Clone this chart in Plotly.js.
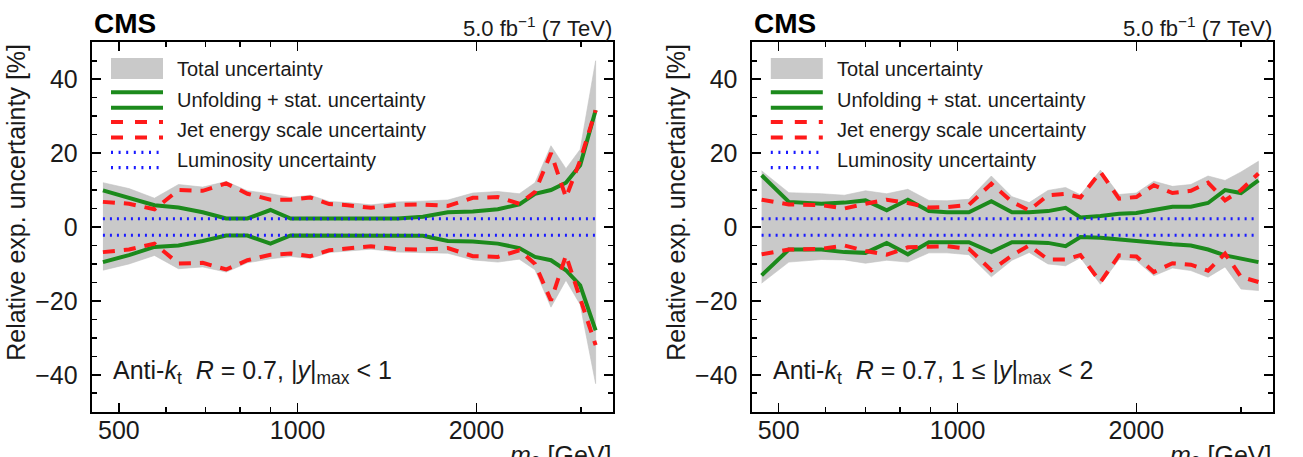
<!DOCTYPE html>
<html>
<head>
<meta charset="utf-8">
<script src="https://cdn.plot.ly/plotly-3.0.1.min.js"></script>
<style>
  html, body { margin: 0; padding: 0; background: #ffffff; }
  #chart { width: 1303px; height: 457px; }
</style>
</head>
<body>
<div id="chart"></div>
<script>
// ---- Relative experimental uncertainties [%] vs dijet mass m2 [GeV] ----

// |y|max < 1
const mass_y0   = [470, 520, 574, 630, 692, 758, 823, 900, 973, 1050, 1130, 1214, 1329, 1474, 1625, 1790, 1972, 2173, 2362, 2510, 2670, 2830, 2990, 3175];
const unfUp_y0  = [9.9, 8.0, 5.9, 5.3, 4.0, 2.3, 2.3, 4.6, 2.3, 2.3, 2.3, 2.3, 2.3, 2.3, 2.8, 4.0, 4.2, 4.8, 6.1, 9.0, 10.0, 12.0, 16.7, 31.6];
const unfDn_y0  = [-9.5, -7.6, -5.4, -5.0, -3.8, -2.3, -2.3, -4.5, -2.3, -2.3, -2.3, -2.3, -2.3, -2.3, -2.4, -3.8, -3.9, -4.5, -5.7, -8.1, -9.0, -11.7, -15.8, -28.0];
const jesUp_y0  = [6.8, 6.3, 4.8, 10.0, 9.8, 11.8, 9.0, 7.4, 7.4, 8.0, 6.2, 5.9, 5.2, 6.0, 6.1, 5.7, 7.9, 8.1, 6.3, 9.5, 20.0, 8.0, 18.0, 31.6];
const jesDn_y0  = [-6.8, -6.1, -4.5, -9.9, -9.7, -11.5, -9.0, -7.5, -7.2, -7.9, -6.3, -5.9, -5.2, -6.0, -6.1, -5.7, -7.9, -8.1, -6.3, -10.0, -19.9, -7.7, -19.0, -32.0];
const totUp_y0  = [12.0, 10.4, 7.8, 11.5, 10.8, 12.3, 9.8, 9.0, 8.0, 8.6, 6.9, 6.6, 6.0, 6.8, 7.0, 7.3, 9.2, 9.6, 9.0, 12.0, 22.0, 15.8, 21.0, 45.0];
const totDn_y0  = [-11.7, -10.0, -7.7, -11.3, -10.8, -12.2, -9.7, -8.6, -8.0, -8.5, -6.9, -6.6, -6.0, -6.8, -6.9, -7.1, -8.9, -9.5, -8.7, -11.6, -21.7, -14.4, -21.0, -42.4];

// 1 <= |y|max < 2
const mass_y1   = [468, 520, 590, 645, 700, 760, 825, 895, 960, 1045, 1140, 1235, 1320, 1420, 1520, 1610, 1740, 1870, 2000, 2140, 2300, 2470, 2640, 2820, 3000, 3210];
const unfUp_y1  = [14.0, 6.8, 6.3, 6.6, 7.2, 4.5, 7.4, 4.3, 4.0, 4.0, 7.0, 4.0, 4.0, 4.3, 5.2, 2.6, 3.0, 3.6, 3.8, 4.6, 5.5, 5.5, 6.5, 10.0, 9.2, 12.6];
const unfDn_y1  = [-13.1, -6.1, -6.1, -6.8, -7.0, -4.3, -7.4, -4.1, -4.1, -4.1, -6.8, -4.1, -4.1, -4.3, -5.2, -2.7, -2.9, -3.4, -3.6, -4.2, -4.7, -5.0, -6.1, -7.7, -8.6, -9.5];
const jesUp_y1  = [7.4, 6.1, 5.9, 5.0, 6.3, 7.4, 6.5, 5.3, 5.4, 6.0, 11.7, 6.8, 4.5, 8.6, 9.0, 8.0, 14.9, 7.7, 8.1, 11.3, 9.2, 9.8, 12.0, 7.2, 10.0, 14.5];
const jesDn_y1  = [-7.4, -6.1, -5.9, -5.0, -6.5, -7.5, -5.5, -5.2, -5.2, -5.9, -11.7, -7.7, -5.0, -8.8, -8.8, -7.6, -14.9, -7.7, -8.0, -12.2, -9.8, -10.2, -11.8, -7.2, -13.5, -14.9];
const totUp_y1  = [15.2, 9.3, 9.0, 8.6, 9.8, 9.0, 10.2, 7.2, 7.1, 7.5, 13.8, 8.2, 6.6, 9.9, 10.7, 8.7, 15.4, 8.8, 9.2, 12.4, 11.0, 11.5, 13.8, 12.6, 14.9, 17.8];
const totDn_y1  = [-15.2, -9.5, -8.8, -8.9, -9.8, -9.0, -9.5, -7.0, -7.0, -7.5, -13.5, -9.0, -6.9, -10.0, -10.5, -8.3, -15.5, -8.8, -9.1, -13.2, -11.1, -11.8, -13.6, -10.8, -16.8, -17.2];

// luminosity uncertainty, flat
const lumiUnc = 2.2;

// axis ticks
const xMajorTicks = [500, 1000, 2000];
const xMinorTicks = [600, 700, 800, 900, 3000];
const yMajorTicks = [-40, -20, 0, 20, 40];

// texts
const legendLabels = ["Total uncertainty", "Unfolding + stat. uncertainty", "Jet energy scale uncertainty", "Luminosity uncertainty"];
const panelLabels = [
  "Anti-<i>k</i><sub>t</sub>  <i>R</i> = 0.7, |<i>y</i>|<sub>max</sub> &lt; 1",
  "Anti-<i>k</i><sub>t</sub>  <i>R</i> = 0.7, 1 ≤ |<i>y</i>|<sub>max</sub> &lt; 2"
];
const expLabel = "<b>CMS</b>";
const lumiLabel = "5.0 fb<sup>−1</sup> (7 TeV)";
const yTitle = "Relative exp. uncertainty [%]";
const xTitle = "<i>m</i><sub>2</sub> [GeV]";

// ---- drawing ----
const W = 1303, H = 457;
const px = v => v / W;
const py = v => 1 - v / H;

const FONT = "Liberation Sans, Arial, Helvetica, sans-serif";
const GREEN = "#1c8a1c", RED = "#ff1a1a", BLUE = "#1a1aff", GRAY = "#c9c9c9";

const panels = [
  { mass: mass_y0, unfUp: unfUp_y0, unfDn: unfDn_y0, jesUp: jesUp_y0, jesDn: jesDn_y0, totUp: totUp_y0, totDn: totDn_y0,
    xa: "x", ya: "y", left: 91.7, right: 613.3, label: panelLabels[0], ytitleX: 16 },
  { mass: mass_y1, unfUp: unfUp_y1, unfDn: unfDn_y1, jesUp: jesUp_y1, jesDn: jesDn_y1, totUp: totUp_y1, totDn: totDn_y1,
    xa: "x2", ya: "y2", left: 751.5, right: 1273.3, label: panelLabels[1], ytitleX: 676 }
];
const plotTop = 42.3, plotBottom = 411.7;

const traces = [];
panels.forEach(p => {
  const common = { xaxis: p.xa, yaxis: p.ya, mode: "lines", hoverinfo: "skip", showlegend: false };
  // total band as a closed polygon
  traces.push(Object.assign({}, common, {
    x: p.mass.concat(p.mass.slice().reverse()),
    y: p.totUp.concat(p.totDn.slice().reverse()),
    fill: "toself", fillcolor: GRAY, line: { width: 0.6, color: "#c2c2c2" }
  }));
  traces.push(Object.assign({}, common, { x: p.mass, y: p.unfUp, line: { color: GREEN, width: 4 } }));
  traces.push(Object.assign({}, common, { x: p.mass, y: p.unfDn, line: { color: GREEN, width: 4 } }));
  traces.push(Object.assign({}, common, { x: p.mass, y: p.jesUp, line: { color: RED, width: 4, dash: "12px,9px" } }));
  traces.push(Object.assign({}, common, { x: p.mass, y: p.jesDn, line: { color: RED, width: 4, dash: "12px,9px" } }));
  traces.push(Object.assign({}, common, { x: p.mass, y: p.mass.map(() => lumiUnc), line: { color: BLUE, width: 3, dash: "2px,5px" } }));
  traces.push(Object.assign({}, common, { x: p.mass, y: p.mass.map(() => -lumiUnc), line: { color: BLUE, width: 3, dash: "2px,5px" } }));
});

function xAxis(p, anchor) {
  return {
    type: "log", range: [Math.log10(450), Math.log10(3400)],
    domain: [px(p.left), px(p.right)], anchor: anchor,
    tickmode: "array", tickvals: xMajorTicks, ticktext: xMajorTicks.map(String),
    ticks: "inside", ticklen: 9, tickwidth: 1.5, tickcolor: "#000",
    minor: { tickmode: "array", tickvals: xMinorTicks, ticks: "inside", ticklen: 5, tickwidth: 1.5, tickcolor: "#000", showgrid: false },
    showline: true, linecolor: "#000", linewidth: 2, mirror: "allticks",
    showgrid: false, zeroline: false, ticklabelstandoff: -5,
    tickfont: { family: FONT, size: 25, color: "#1a1a1a" }
  };
}
function yAxis(p, anchor) {
  return {
    range: [-50, 50], domain: [py(plotBottom), py(plotTop)], anchor: anchor,
    tickmode: "array", tickvals: yMajorTicks,
    ticks: "inside", ticklen: 9, tickwidth: 1.5, tickcolor: "#000",
    minor: { dtick: 5, ticks: "inside", ticklen: 5, tickwidth: 1.5, tickcolor: "#000", showgrid: false },
    showline: true, linecolor: "#000", linewidth: 2, mirror: "allticks",
    showgrid: false, zeroline: false, ticklabelstandoff: 7,
    tickfont: { family: FONT, size: 25, color: "#1a1a1a" }
  };
}

const shapes = [];
const annotations = [];
const legendRows = [69, 100, 130, 160];

panels.forEach(p => {
  const off = p.left - 91.7;
  const x0 = px(111 + off), x1 = px(163 + off);
  // legend symbols
  shapes.push({ type: "rect", xref: "paper", yref: "paper", x0: x0, x1: x1, y0: py(79), y1: py(58), fillcolor: GRAY, line: { width: 0 } });
  [92.3, 107.7].forEach(y => shapes.push({ type: "line", xref: "paper", yref: "paper", x0: x0, x1: x1, y0: py(y), y1: py(y), line: { color: GREEN, width: 4 } }));
  [122, 137.5].forEach(y => shapes.push({ type: "line", xref: "paper", yref: "paper", x0: x0, x1: x1, y0: py(y), y1: py(y), line: { color: RED, width: 4, dash: "12px,12px" } }));
  [152.3, 167.7].forEach(y => shapes.push({ type: "line", xref: "paper", yref: "paper", x0: x0, x1: x1, y0: py(y), y1: py(y), line: { color: BLUE, width: 3.3, dash: "2px,5.6px" } }));

  legendLabels.forEach((t, i) => annotations.push({
    xref: "paper", yref: "paper", x: px(175 + off), y: py(legendRows[i]), xanchor: "left", yanchor: "middle",
    text: t, showarrow: false, font: { family: FONT, size: 20, color: "#1a1a1a" }
  }));

  // header
  annotations.push({ xref: "paper", yref: "paper", x: px(p.left), y: py(23), xanchor: "left", yanchor: "middle",
    text: expLabel, showarrow: false, font: { family: FONT, size: 28, color: "#000" } });
  annotations.push({ xref: "paper", yref: "paper", x: px(p.right + 1), y: py(27), xanchor: "right", yanchor: "middle",
    text: lumiLabel, showarrow: false, font: { family: FONT, size: 22, color: "#1a1a1a" } });

  // region label
  annotations.push({ xref: "paper", yref: "paper", x: px(p.left + 19), y: py(372), xanchor: "left", yanchor: "middle",
    text: p.label, showarrow: false, font: { family: FONT, size: 25, color: "#1a1a1a" } });

  // axis titles
  annotations.push({ xref: "paper", yref: "paper", x: px(p.ytitleX), y: py(plotTop), xanchor: "center", yanchor: "top",
    textangle: -90, text: yTitle, showarrow: false, font: { family: FONT, size: 25, color: "#1a1a1a" } });
  annotations.push({ xref: "paper", yref: "paper", x: px(p.right), y: py(439), xanchor: "right", yanchor: "top",
    text: xTitle, showarrow: false, font: { family: FONT, size: 25, color: "#1a1a1a" } });
});

const layout = {
  width: W, height: H,
  margin: { l: 0, r: 0, t: 0, b: 0 },
  paper_bgcolor: "#ffffff", plot_bgcolor: "#ffffff",
  showlegend: false,
  xaxis: xAxis(panels[0], "y"),
  yaxis: yAxis(panels[0], "x"),
  xaxis2: xAxis(panels[1], "y2"),
  yaxis2: yAxis(panels[1], "x2"),
  shapes: shapes,
  annotations: annotations
};

Plotly.newPlot("chart", traces, layout, { staticPlot: true, displayModeBar: false });
</script>
</body>
</html>
